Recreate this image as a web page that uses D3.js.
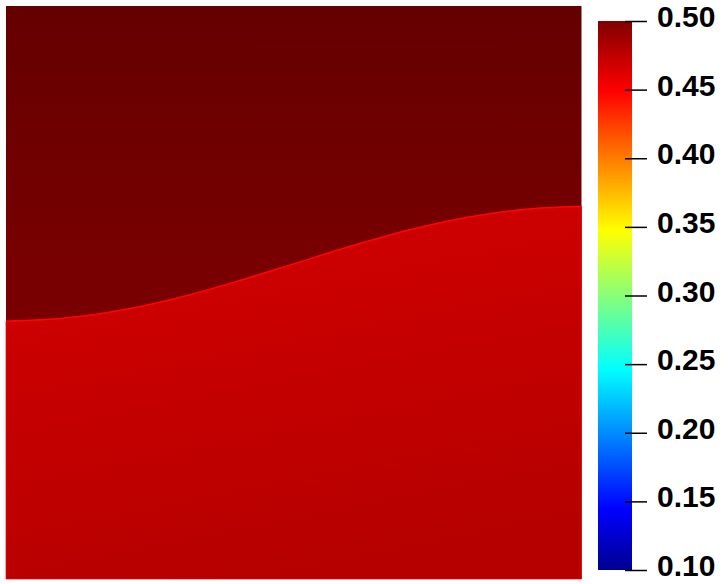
<!DOCTYPE html>
<html>
<head>
<meta charset="utf-8">
<script src="https://cdn.jsdelivr.net/npm/d3@7"></script>
<style>
  body { margin: 0; background: #fff; }
  svg { display: block; }
</style>
</head>
<body>
<svg id="chart" width="728" height="584"></svg>
<script>
// Interface between the two phases (x and height, both in unit box coords).
const interfaceX = [0, 0.1, 0.2, 0.3, 0.4, 0.5, 0.6, 0.7, 0.8, 0.9, 1.0];
const interfaceY = [0.45, 0.455, 0.469, 0.491, 0.519, 0.55, 0.581, 0.609, 0.631, 0.645, 0.65];

// Field values: top of upper phase, near interface, bottom of lower phase.
const upperValues = [0.5032, 0.5108];   // [at interface, at top]
const lowerValues = [0.4696, 0.4785];   // [at interface, at bottom]
const interfaceValue = 0.448;

// Colour map ("jet") control points, position in [0,1] and colour.
const jetPositions = [0, 0.111, 0.365, 0.492, 0.619, 0.873, 1.0];
const jetColors = ["#00008f", "#0000ff", "#00ffff", "#80ff80", "#ffff00", "#ff0000", "#800000"];

const rangeMin = 0.10, rangeMax = 0.50;
const colorbarTicks = [0.10, 0.15, 0.20, 0.25, 0.30, 0.35, 0.40, 0.45, 0.50];

const svg = d3.select("#chart");

// Value -> colour. Not clamped, so values slightly above the range darken like the render.
const color = d3.scaleLinear()
  .domain(jetPositions.map(t => rangeMin + t * (rangeMax - rangeMin)))
  .range(jetColors)
  .interpolate(d3.interpolateRgb);

// Field geometry.
const field = {left: 6, right: 581.5, top: 6, bottom: 579};
const x = d3.scaleLinear().domain([0, 1]).range([field.left, field.right]);
const y = d3.scaleLinear().domain([0, 1]).range([field.bottom, field.top]);

const defs = svg.append("defs");

// Upper phase gradient (vertical, from interface mid-height to top).
const upperGrad = defs.append("linearGradient")
  .attr("id", "upperGrad")
  .attr("gradientUnits", "userSpaceOnUse")
  .attr("x1", 0).attr("x2", 0)
  .attr("y1", y(d3.mean(interfaceY))).attr("y2", y(1));
upperGrad.append("stop").attr("offset", 0).attr("stop-color", color(upperValues[0]));
upperGrad.append("stop").attr("offset", 1).attr("stop-color", color(upperValues[1]));

// Lower phase gradient, running perpendicular to the interface chord.
const x0 = x(0), y0 = y(interfaceY[0]);
const x1 = x(1), y1 = y(interfaceY[interfaceY.length - 1]);
const len = Math.hypot(x1 - x0, y1 - y0);
const nx = -(y1 - y0) / len, ny = (x1 - x0) / len;
const mx = (x0 + x1) / 2, my = (y0 + y1) / 2;
const depth = 300;
const lowerGrad = defs.append("linearGradient")
  .attr("id", "lowerGrad")
  .attr("gradientUnits", "userSpaceOnUse")
  .attr("x1", mx).attr("y1", my)
  .attr("x2", mx + nx * depth).attr("y2", my + ny * depth);
lowerGrad.append("stop").attr("offset", 0).attr("stop-color", color(lowerValues[0]));
lowerGrad.append("stop").attr("offset", 1).attr("stop-color", color(lowerValues[1]));

const pts = interfaceX.map((d, i) => [d, interfaceY[i]]);

// Upper phase fills the whole box, lower phase is drawn on top.
svg.append("rect")
  .attr("x", x(0)).attr("y", y(1))
  .attr("width", x(1) - x(0)).attr("height", y(0) - y(1))
  .attr("fill", "url(#upperGrad)");

const area = d3.area()
  .x(d => x(d[0]))
  .y0(y(0))
  .y1(d => y(d[1]))
  .curve(d3.curveMonotoneX);

svg.append("path")
  .datum(pts)
  .attr("d", area)
  .attr("fill", "url(#lowerGrad)")
  .attr("stroke", color(0.456))
  .attr("stroke-width", 1)
  .attr("stroke-opacity", 0.7);

const line = d3.line()
  .x(d => x(d[0]))
  .y(d => y(d[1]))
  .curve(d3.curveMonotoneX);

svg.append("path")
  .datum(pts)
  .attr("d", line)
  .attr("fill", "none")
  .attr("stroke", color(interfaceValue))
  .attr("stroke-width", 1.5);

// Colour bar.
const bar = {left: 598, right: 632, top: 21, bottom: 570};
const barScale = d3.scaleLinear().domain([rangeMin, rangeMax]).range([bar.bottom, bar.top]);

const barGrad = defs.append("linearGradient")
  .attr("id", "barGrad")
  .attr("x1", 0).attr("x2", 0).attr("y1", 1).attr("y2", 0);
jetPositions.forEach((t, i) => {
  barGrad.append("stop").attr("offset", t).attr("stop-color", jetColors[i]);
});

svg.append("rect")
  .attr("x", bar.left).attr("y", bar.top)
  .attr("width", bar.right - bar.left).attr("height", bar.bottom - bar.top)
  .attr("fill", "url(#barGrad)");

const axis = svg.append("g")
  .attr("transform", "translate(625,0)")
  .call(d3.axisRight(barScale)
    .tickValues(colorbarTicks)
    .tickFormat(d3.format(".2f"))
    .tickSize(22)
    .tickPadding(10));

axis.select(".domain").remove();
axis.selectAll(".tick line")
  .attr("stroke", "#000")
  .attr("stroke-width", 1.5);
axis.selectAll(".tick text")
  .attr("fill", "#000")
  .attr("dy", "0.32em")
  .attr("y", -4)
  .style("font-family", "'Liberation Sans', Arial, sans-serif")
  .style("font-weight", "bold")
  .style("font-size", "30px");
</script>
</body>
</html>
